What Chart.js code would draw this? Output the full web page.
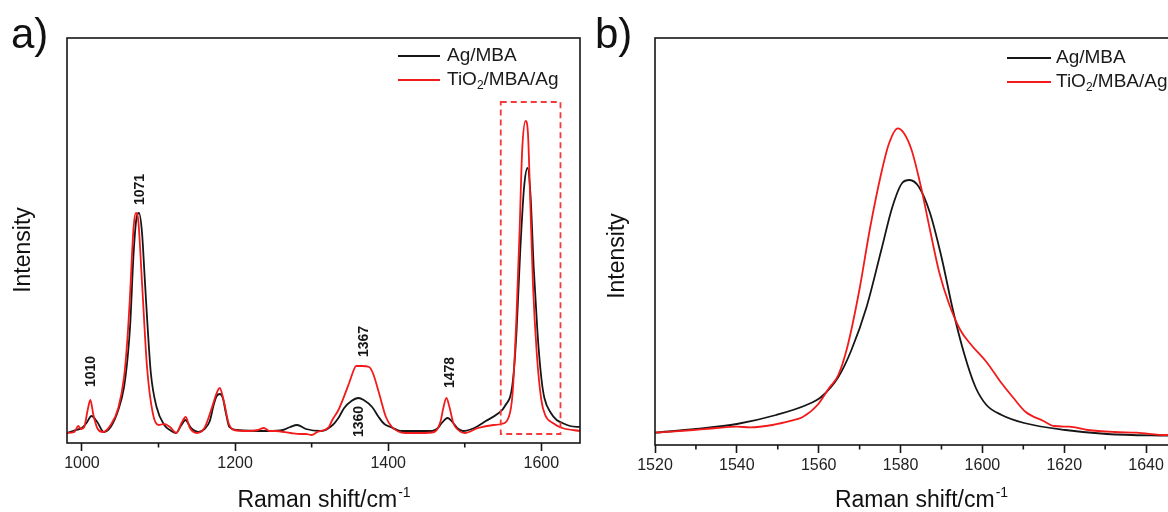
<!DOCTYPE html>
<html lang="en">
<head>
<meta charset="UTF-8">
<title>Raman spectra Ag/MBA and TiO2/MBA/Ag</title>
<script src="https://cdn.jsdelivr.net/npm/chart.js@4.4.1/dist/chart.umd.min.js"></script>
<style>
    html, body { margin: 0; padding: 0; background: #fff; overflow: hidden; }
    #wrap { position: relative; width: 1168px; height: 512px; overflow: hidden; }
    #chartA { position: absolute; left: 0; top: 0; }
    #chartB { position: absolute; left: 580px; top: 0; }
</style>
</head>
<body>
<div id="wrap">
    <canvas id="chartA" width="600" height="512"></canvas>
    <canvas id="chartB" width="627" height="512"></canvas>
</div>
<script>
    // ---- panel a: full spectrum ----
    const agMbaShiftA = [980, 992, 1000, 1006, 1012.5, 1020, 1028.5, 1037.5, 1047.5, 1055,
        1060, 1063, 1067.5, 1071.5, 1074.5, 1078.5, 1082, 1085, 1090, 1097.5,
        1107.5, 1115, 1122.5, 1130, 1135, 1142.5, 1152.5, 1160, 1167, 1172,
        1176, 1180, 1184, 1188, 1192.5, 1202.5, 1242.5, 1262.5, 1272, 1281,
        1292.5, 1312.5, 1327.5, 1335, 1342.5, 1352, 1361, 1368, 1379, 1387.5,
        1395, 1403, 1417.5, 1457.5, 1465, 1470, 1477.5, 1485, 1490, 1497.5,
        1512.5, 1527.5, 1542.5, 1552.5, 1562.5, 1567.5, 1572.5, 1577.5, 1582, 1586,
        1590, 1595, 1600, 1604, 1612.5, 1620, 1627.5, 1637.5, 1651];
    const agMbaIntA = [10, 13, 15, 20, 27, 21, 11, 16, 33, 56,
        88, 118, 190, 226, 230, 210, 165, 126, 70, 36,
        18, 13, 10, 18, 23, 15, 11, 14, 22, 38,
        47, 49, 45, 30, 16, 13, 12, 13, 16, 18,
        14, 12, 18, 25, 35, 42, 45, 43, 36, 26,
        19, 16, 12, 12, 15, 20, 25, 20, 15, 12,
        15, 22, 29, 37, 60, 110, 193, 256, 275, 246,
        176, 110, 65, 45, 30, 23, 20, 17, 16];

    const tioShiftA = [980, 990, 995, 999, 1003, 1007.5, 1011, 1015, 1020, 1027.5,
        1037.5, 1047.5, 1055, 1059, 1062.5, 1067.5, 1070.5, 1073.5, 1078.5, 1085,
        1092.5, 1100, 1107.5, 1115, 1123.5, 1130, 1135.5, 1141, 1150, 1160,
        1170, 1175, 1180, 1185, 1191.5, 1198.5, 1217.5, 1230, 1237.5, 1245,
        1252.5, 1272.5, 1285, 1292.5, 1300, 1307.5, 1322.5, 1327, 1335, 1349,
        1355, 1358, 1366, 1375, 1380, 1388, 1397, 1405, 1422.5, 1442.5,
        1460, 1468.5, 1472, 1476, 1480, 1485, 1490, 1500, 1517.5, 1537.5,
        1547.5, 1557.5, 1562.5, 1567.5, 1571.5, 1575, 1579.5, 1582.5, 1585.5, 1589,
        1594, 1600, 1605, 1615, 1627.5, 1651];
    const tioIntA = [10, 11, 17, 14, 16, 33, 43, 28, 15, 11,
        18, 35, 66, 100, 143, 216, 230, 223, 160, 76,
        30, 18, 19, 16, 10, 20, 26, 15, 10, 15,
        36, 48, 55, 43, 20, 13, 12, 13, 15, 12,
        12, 10, 9, 9, 8, 11, 16, 23, 33, 60,
        73, 77, 77, 76, 70, 50, 26, 16, 10, 10,
        11, 22, 35, 45, 36, 20, 14, 10, 15, 18,
        19, 26, 50, 126, 210, 293, 322, 310, 243, 160,
        90, 43, 28, 20, 15, 12];

    const xTicksA = [1000, 1200, 1400, 1600];
    const xMinorA = [1100, 1300, 1500];

    // band assignments written next to the peaks
    const peakText = ['1010', '1071', '1367', '1478', '1360'];
    const peakShift = [1012.6, 1075.9, 1368.6, 1481.4, 1362.7];
    const peakInt = [56, 238, 86, 55, 6];

    // dashed frame around the band enlarged in panel b
    const zoomBoxShift = [1547, 1625];
    const zoomBoxInt = [9, 341];

    // ---- panel b: 1580 band ----
    const agMbaShiftB = [1520, 1530, 1540, 1549.6, 1557, 1560.6, 1564.8, 1568, 1571.7, 1575.3,
        1578, 1580.4, 1582.2, 1584.5, 1587.2, 1590, 1592.8, 1595.5, 1598.3, 1601,
        1604.7, 1610.2, 1620.3, 1630.4, 1645, 1650];
    const agMbaIntB = [12.3, 16, 21, 30, 40, 48, 68, 95, 138, 195,
        238, 262, 265, 258, 232, 188, 135, 92, 58, 40,
        30, 22, 15, 11, 9.3, 9];

    const tioShiftB = [1520, 1529.4, 1535, 1540, 1543.2, 1548.7, 1553.3, 1556, 1559.7, 1562.5,
        1564.8, 1567, 1569.8, 1572.6, 1575.3, 1577.2, 1579.3, 1580.8, 1582.7, 1585,
        1587.2, 1589.5, 1591.8, 1594.6, 1597.3, 1601, 1604.7, 1607.4, 1610.6, 1614.8,
        1617.5, 1621.2, 1625.8, 1632.2, 1637.7, 1645, 1650];
    const tioIntB = [12.3, 15, 17, 18.3, 17.7, 20, 24.3, 27.7, 40, 56.7,
        70, 98, 152, 218, 272, 301.7, 316.7, 312, 295, 258,
        215, 172, 141.7, 115, 100, 83, 61.7, 48, 33, 24.3,
        19, 18.3, 15, 13, 12.3, 10, 10];

    const xTicksB = [1520, 1540, 1560, 1580, 1600, 1620, 1640];
    const xMinorB = [1530, 1550, 1570, 1590, 1610, 1630, 1650];

    const seriesNames = ['Ag/MBA', 'TiO2/MBA/Ag'];

    const FONT = '"Liberation Sans", Arial, sans-serif';
    const INK = '#161616';
    const RED = '#f21a1a';

    // draws text where every digit is set as a subscript (TiO2 -> TiO₂)
    function fillChem(ctx, text, x, y, size) {
        text.split(/(\d)/).filter(s => s.length).forEach(part => {
            const sub = /^\d$/.test(part);
            ctx.font = (sub ? Math.round(size * 0.62) : size) + 'px ' + FONT;
            ctx.fillText(part, x, sub ? y + size * 0.3 : y);
            x += ctx.measureText(part).width;
        });
    }

    const panelDecor = {
        id: 'panelDecor',
        afterDatasetsDraw(chart, args, o) {
            const ctx = chart.ctx;
            const area = chart.chartArea;
            const sx = chart.scales.x, sy = chart.scales.y;
            ctx.save();

            if (o.box) {
                const x0 = sx.getPixelForValue(o.box.shift[0]);
                const x1 = sx.getPixelForValue(o.box.shift[1]);
                const y0 = sy.getPixelForValue(o.box.int[0]);
                const y1 = sy.getPixelForValue(o.box.int[1]);
                ctx.strokeStyle = '#f43a3a';
                ctx.lineWidth = 1.8;
                ctx.setLineDash([6, 4]);
                ctx.strokeRect(x0, y1, x1 - x0, y0 - y1);
                ctx.setLineDash([]);
            }

            // closed frame round the plot
            ctx.strokeStyle = INK;
            ctx.lineWidth = 1.6;
            ctx.strokeRect(area.left, area.top, area.right - area.left, area.bottom - area.top);

            // short minor ticks between the labelled ones
            ctx.beginPath();
            o.minor.forEach(v => {
                const x = sx.getPixelForValue(v);
                ctx.moveTo(x, area.bottom);
                ctx.lineTo(x, area.bottom + 4.5);
            });
            ctx.stroke();

            // rotated peak positions
            ctx.fillStyle = INK;
            ctx.font = 'bold 14px ' + FONT;
            ctx.textAlign = 'left';
            ctx.textBaseline = 'middle';
            (o.peaks || []).forEach(pk => {
                ctx.save();
                ctx.translate(sx.getPixelForValue(pk.x), sy.getPixelForValue(pk.y));
                ctx.rotate(-Math.PI / 2);
                ctx.fillText(pk.text, 0, 0);
                ctx.restore();
            });

            // legend
            const lg = o.legend;
            [INK, RED].forEach((c, i) => {
                const y = lg.y[i];
                ctx.strokeStyle = c;
                ctx.lineWidth = 1.8;
                ctx.beginPath();
                ctx.moveTo(lg.x0, y);
                ctx.lineTo(lg.x1, y);
                ctx.stroke();
                ctx.fillStyle = '#1a1a1a';
                ctx.textBaseline = 'middle';
                fillChem(ctx, seriesNames[i], lg.tx, y, 19);
            });

            // panel letter
            ctx.fillStyle = '#111';
            ctx.textBaseline = 'alphabetic';
            ctx.font = '42px ' + FONT;
            ctx.fillText(o.letter, o.letterX, 48);

            // x title with superscript
            const main = 'Raman shift/cm', sup = '-1';
            ctx.font = '23px ' + FONT;
            const wMain = ctx.measureText(main).width;
            ctx.font = '14px ' + FONT;
            const wSup = ctx.measureText(sup).width;
            let tx = (area.left + area.right) / 2 - (wMain + wSup) / 2;
            ctx.font = '23px ' + FONT;
            ctx.fillText(main, tx, 507);
            ctx.font = '14px ' + FONT;
            ctx.fillText(sup, tx + wMain + 1, 497);

            // y title
            ctx.save();
            ctx.translate(o.yTitleX, o.yTitleY);
            ctx.rotate(-Math.PI / 2);
            ctx.font = '23px ' + FONT;
            ctx.textAlign = 'center';
            ctx.fillText('Intensity', 0, 0);
            ctx.restore();

            ctx.restore();
        }
    };

    function toPoints(xs, ys) {
        return xs.map((v, i) => ({x: v, y: ys[i]}));
    }

    function buildPanel(id, p) {
        return new Chart(document.getElementById(id), {
            type: 'line',
            data: {
                datasets: [
                    {label: seriesNames[0], data: toPoints(p.blackX, p.blackY), borderColor: INK, order: 2},
                    {label: seriesNames[1], data: toPoints(p.redX, p.redY), borderColor: RED, order: 1}
                ]
            },
            options: {
                responsive: false,
                animation: false,
                layout: {padding: {left: p.padLeft, right: 20, top: 38, bottom: 0}},
                elements: {
                    point: {radius: 0},
                    line: {borderWidth: 1.8, cubicInterpolationMode: 'monotone', fill: false}
                },
                scales: {
                    x: {
                        type: 'linear',
                        min: p.xMin,
                        max: p.xMax,
                        afterBuildTicks: s => { s.ticks = p.ticks.map(v => ({value: v})); },
                        afterFit: s => { s.height = p.axisHeight; },
                        border: {display: false},
                        grid: {display: true, drawOnChartArea: false, drawTicks: true,
                            tickLength: 8, tickColor: INK, tickWidth: 1.6},
                        ticks: {font: {family: FONT, size: 16}, color: '#222', padding: 3,
                            maxRotation: 0, autoSkip: false,
                            callback: v => String(v)}
                    },
                    y: {display: false, min: 0, max: p.yMax}
                },
                plugins: {
                    legend: {display: false},
                    tooltip: {enabled: false},
                    panelDecor: p.decor
                }
            },
            plugins: [panelDecor]
        });
    }

    buildPanel('chartA', {
        blackX: agMbaShiftA, blackY: agMbaIntA, redX: tioShiftA, redY: tioIntA,
        xMin: 980.5, xMax: 1650.5, yMax: 405, ticks: xTicksA,
        padLeft: 67, axisHeight: 69,
        decor: {
            letter: 'a)', letterX: 11,
            minor: xMinorA,
            box: {shift: zoomBoxShift, int: zoomBoxInt},
            peaks: peakText.map((t, i) => ({text: t, x: peakShift[i], y: peakInt[i]})),
            legend: {x0: 398, x1: 440, tx: 447, y: [56, 80]},
            yTitleX: 30, yTitleY: 250
        }
    });

    buildPanel('chartB', {
        blackX: agMbaShiftB, blackY: agMbaIntB, redX: tioShiftB, redY: tioIntB,
        xMin: 1520, xMax: 1650, yMax: 407, ticks: xTicksB,
        padLeft: 75, axisHeight: 67,
        decor: {
            letter: 'b)', letterX: 15,
            minor: xMinorB,
            legend: {x0: 427, x1: 471, tx: 476, y: [58, 82]},
            yTitleX: 44, yTitleY: 256
        }
    });
</script>
</body>
</html>
